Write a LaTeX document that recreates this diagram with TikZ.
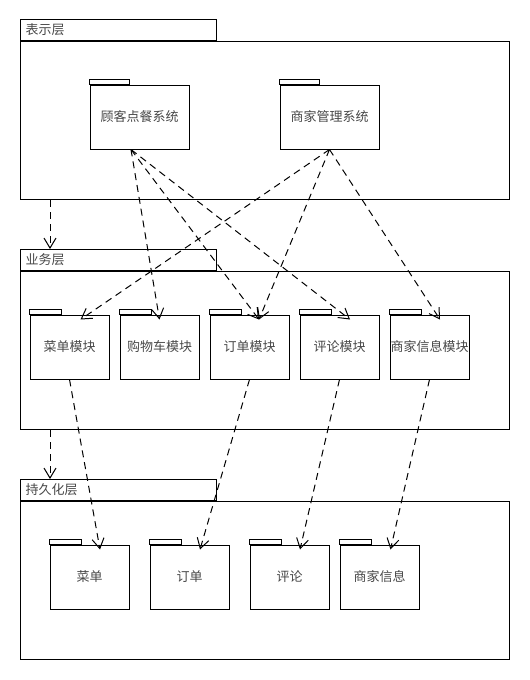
\documentclass[tikz,border=0pt]{standalone}
\usepackage{fontspec}
\newfontfamily\cjk{Noto Sans CJK SC}
\usetikzlibrary{arrows.meta}
\begin{document}
\begin{tikzpicture}[x=1pt,y=-1pt,
  every node/.style={font=\cjk\fontsize{13}{15}\selectfont, text=black!72},
  layertab/.style={draw, line width=1pt, minimum width=196pt, minimum height=21pt,
    inner xsep=5pt, inner ysep=0pt, text width=186pt, align=left, anchor=south west},
  layerbody/.style={draw, line width=1pt, minimum width=489pt, minimum height=158pt,
    inner sep=0pt, anchor=north west},
  pkgbig/.style={draw, line width=1pt, minimum width=99pt, minimum height=64pt, inner sep=0pt},
  pkgbox/.style={draw, line width=1pt, minimum width=79pt, minimum height=64pt, inner sep=0pt},
  tabline/.style={line width=0.8pt},
  dep/.style={line width=1pt, dash pattern=on 7pt off 5pt,
    -{Straight Barb[length=10pt,width=12pt,line width=1pt]}}
]
\useasboundingbox (0,0) rectangle (530,680);

% layers
\node[layertab] (L1t) at (20,41) {表示层};
\node[layerbody] (L1) at (20,41) {};
\node[layertab] (L2t) at (20,271) {业务层};
\node[layerbody] (L2) at (20,271) {};
\node[layertab] (L3t) at (20,501) {持久化层};
\node[layerbody] (L3) at (20,501) {};

% presentation layer packages
\node[pkgbig] (gk) at (139.5,117) {顾客点餐系统};
\node[pkgbig] (sj) at (329.5,117) {商家管理系统};
\draw[tabline] (gk.north west) rectangle ++(40pt,5.5pt);
\draw[tabline] (sj.north west) rectangle ++(40pt,5.5pt);

% business layer packages
\node[pkgbox] (cdm) at (69.5,347) {菜单模块};
\node[pkgbox] (gwc) at (159.5,347) {购物车模块};
\node[pkgbox] (ddm) at (249.5,347) {订单模块};
\node[pkgbox] (plm) at (339.5,347) {评论模块};
\node[pkgbox] (sjm) at (429.5,347) {商家信息模块};
\foreach \n in {cdm,gwc,ddm,plm,sjm}
  \draw[tabline] (\n.north west) rectangle ++(32pt,5.5pt);

% persistence layer packages
\node[pkgbox] (cd) at (89.5,577) {菜单};
\node[pkgbox] (dd) at (189.5,577) {订单};
\node[pkgbox] (pl) at (289.5,577) {评论};
\node[pkgbox] (sx) at (379.5,577) {商家信息};
\foreach \n in {cd,dd,pl,sx}
  \draw[tabline] (\n.north west) rectangle ++(32pt,5.5pt);

% layer dependencies
\draw[dep] ([xshift=30pt]L1.south west) -- ([xshift=30pt]L2t.north west);
\draw[dep] ([xshift=30pt]L2.south west) -- ([xshift=30pt]L3t.north west);

% presentation -> business
\draw[dep] ([xshift=-8.5pt]gk.south) -- ([yshift=-5pt]gwc.north);
\draw[dep] ([xshift=-8.5pt]gk.south) -- ([xshift=9.5pt,yshift=-5pt]ddm.north);
\draw[dep] ([xshift=-8.5pt]gk.south) -- ([xshift=10.5pt,yshift=-5pt]plm.north);
\draw[dep] (sj.south) -- ([xshift=11pt,yshift=-5pt]cdm.north);
\draw[dep] (sj.south) -- ([xshift=9.5pt,yshift=-5pt]ddm.north);
\draw[dep] (sj.south) -- ([xshift=10.5pt,yshift=-5pt]sjm.north);

% business -> persistence
\draw[dep] (cdm.south) -- ([xshift=10.5pt,yshift=-5pt]cd.north);
\draw[dep] (ddm.south) -- ([xshift=10.5pt,yshift=-5pt]dd.north);
\draw[dep] (plm.south) -- ([xshift=10.5pt,yshift=-5pt]pl.north);
\draw[dep] (sjm.south) -- ([xshift=11pt,yshift=-5pt]sx.north);
\end{tikzpicture}
\end{document}
